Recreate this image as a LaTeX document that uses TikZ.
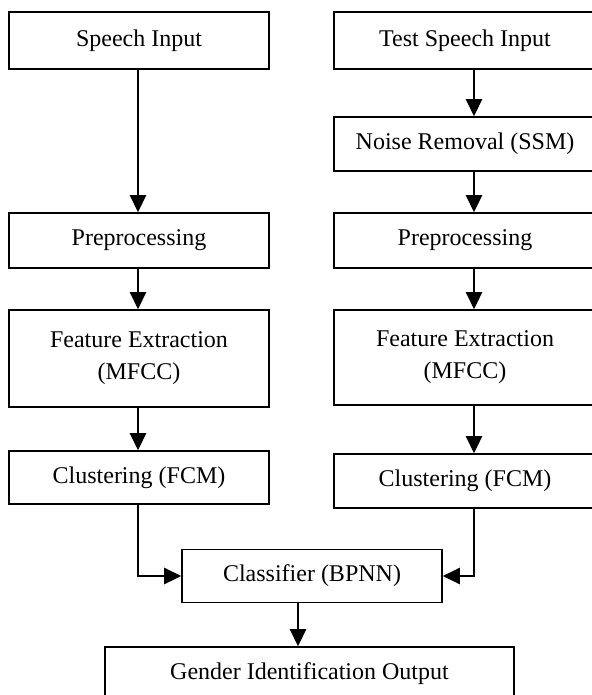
\documentclass[tikz,border=0pt]{standalone}
\usepackage{fontspec}
\setmainfont{Liberation Serif}
\usetikzlibrary{arrows.meta}

\begin{document}
\begin{tikzpicture}[x=0.5pt,y=-0.5pt,
  block/.style={draw, line width=0.8pt, inner sep=0pt, align=center, font=\myfontblock},
  flow/.style={-{Triangle[length=8.5pt,width=8pt]}, line width=1.3pt}]
\newcommand{\myfontblock}{%
\fontsize{12}{16}\selectfont%
}%Frame of the picture
\useasboundingbox (0,0) rectangle (592,695);
\clip (0,0) rectangle (592,695);
%Columns of the arrows
\coordinate (colL) at (138,0);
\coordinate (colR) at (474,0);
\coordinate (colC) at (298,0);
%Training side (left)
\coordinate (centerL1) at (139,40.5);
\coordinate (centerL2) at (139,240.5);
\coordinate (centerL3) at (139,358.5);
\coordinate (centerL4) at (139,477.5);
\node [block, minimum width=130pt, minimum height=28.5pt] (speech) at (centerL1) {Speech Input};
\node [block, minimum width=130pt, minimum height=27.5pt] (prepL) at (centerL2) {Preprocessing};
\node [block, minimum width=130pt, minimum height=48.5pt] (featL) at (centerL3) {Feature Extraction\\(MFCC)};
\node [block, minimum width=130pt, minimum height=26.5pt] (clusL) at (centerL4) {Clustering (FCM)};
%Testing side (right)
\coordinate (centerR1) at (465,40.5);
\coordinate (centerR2) at (465,144);
\coordinate (centerR3) at (465,240.5);
\coordinate (centerR4) at (465,357.5);
\coordinate (centerR5) at (465,481);
\node [block, minimum width=131pt, minimum height=28.5pt] (test) at (centerR1) {Test Speech Input};
\node [block, minimum width=131pt, minimum height=27pt] (noise) at (centerR2) {Noise Removal (SSM)};
\node [block, minimum width=131pt, minimum height=27.5pt] (prepR) at (centerR3) {Preprocessing};
\node [block, minimum width=131pt, minimum height=47.5pt] (featR) at (centerR4) {Feature Extraction\\(MFCC)};
\node [block, minimum width=131pt, minimum height=27pt] (clusR) at (centerR5) {Clustering (FCM)};
%Classifier and output
\coordinate (centerC1) at (312,576);
\coordinate (centerC2) at (309.5,674);
\node [block, minimum width=130pt, minimum height=26.5pt] (classifier) at (centerC1) {Classifier (BPNN)};
\node [block, minimum width=204.5pt, minimum height=27pt] (gender) at (centerC2) {Gender Identification Output};
%Arrows of the left column
\draw [flow] (speech.south -| colL) -- (prepL.north -| colL);
\draw [flow] (prepL.south -| colL) -- (featL.north -| colL);
\draw [flow] (featL.south -| colL) -- (clusL.north -| colL);
%Arrows of the right column
\draw [flow] (test.south -| colR) -- (noise.north -| colR);
\draw [flow] (noise.south -| colR) -- (prepR.north -| colR);
\draw [flow] (prepR.south -| colR) -- (featR.north -| colR);
\draw [flow] (featR.south -| colR) -- (clusR.north -| colR);
%Into the classifier and out
\draw [flow] (clusL.south -| colL) |- (classifier.west);
\draw [flow] (clusR.south -| colR) |- (classifier.east);
\draw [flow] (classifier.south -| colC) -- (gender.north -| colC);
\end{tikzpicture}
\end{document}
